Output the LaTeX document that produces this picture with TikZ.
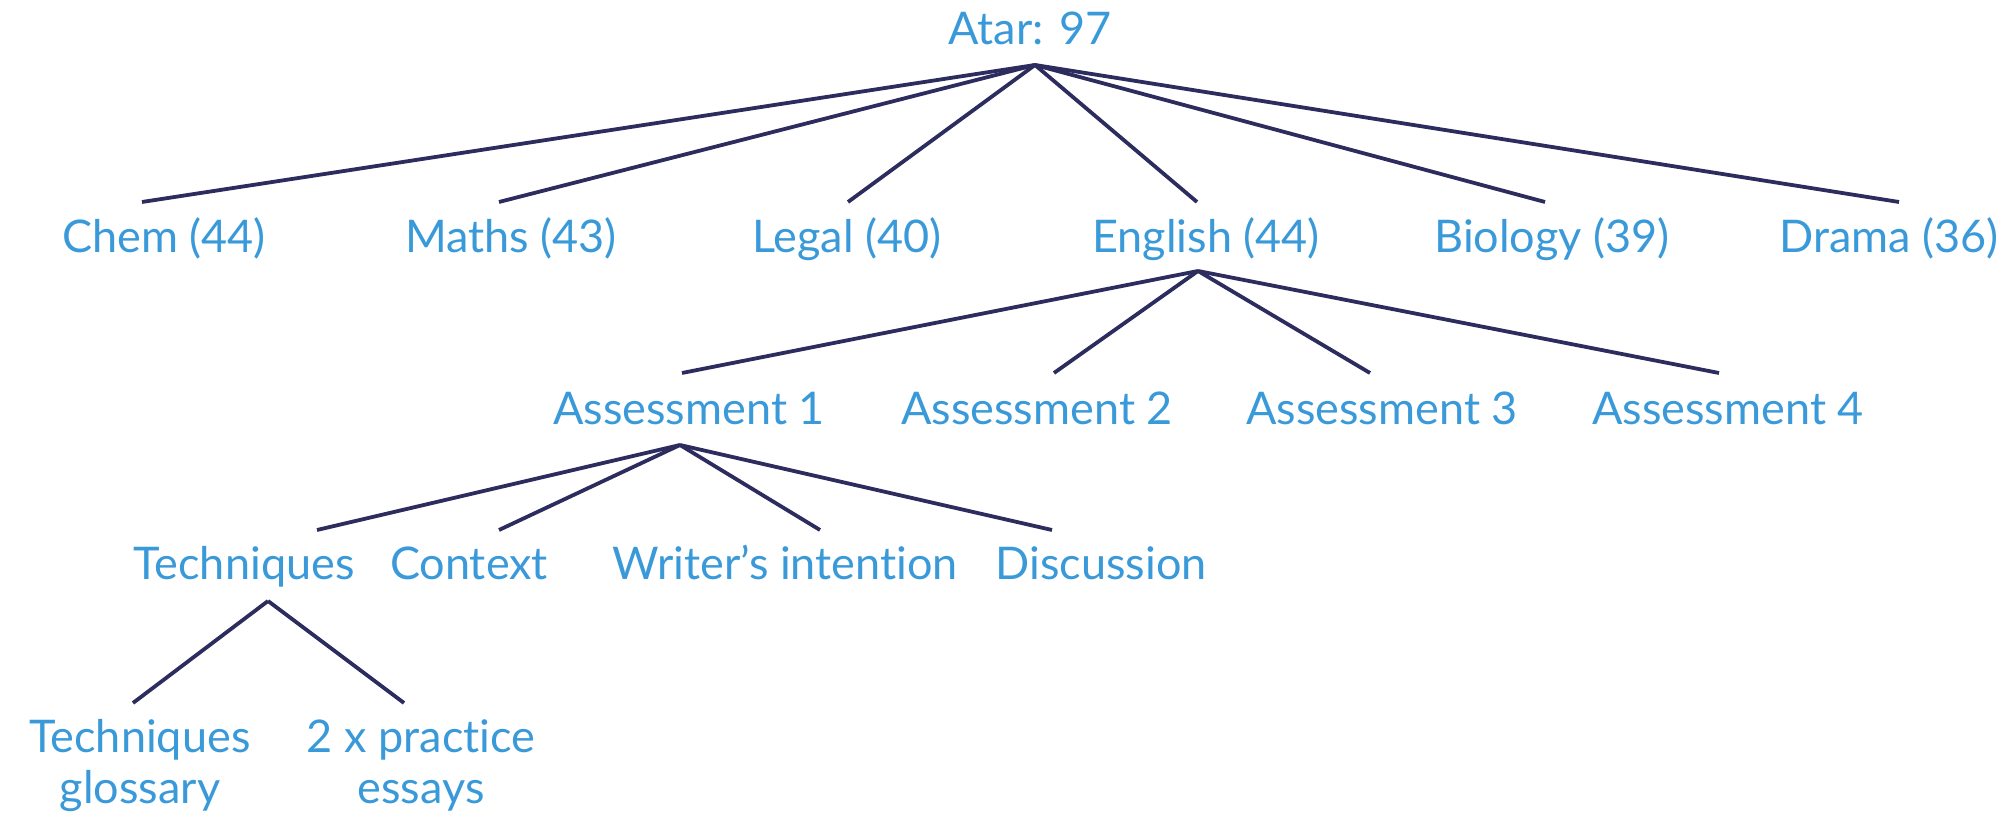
\documentclass[tikz,border=0pt]{standalone}
\usepackage{fontspec}
\setmainfont{Lato}[Ligatures=NoCommon]
\definecolor{txtblue}{HTML}{3A9AD9}
\definecolor{navy}{HTML}{2D2C5E}
\begin{document}
\begin{tikzpicture}[x=0.5pt,y=-0.5pt,
  lbl/.style={text=txtblue, font=\fontsize{22.5pt}{25pt}\selectfont, inner sep=0pt, anchor=base},
  conn/.style={draw=navy, line width=1.9pt}]
\useasboundingbox (0,0) rectangle (2002,822);
% nodes
\node[lbl] (atar) at (1030,45) {Atar: 97};
\node[lbl] (chem) at (164,253) {Chem (44)};
\node[lbl] (maths) at (511,253) {Maths (43)};
\node[lbl] (legal) at (847,253) {Legal (40)};
\node[lbl] (english) at (1206,253) {English (44)};
\node[lbl] (biology) at (1552,253) {Biology (39)};
\node[lbl] (drama) at (1889,253) {Drama (36)};
\node[lbl] (a1) at (689,425) {Assessment 1};
\node[lbl] (a2) at (1037,425) {Assessment 2};
\node[lbl] (a3) at (1382,425) {Assessment 3};
\node[lbl] (a4) at (1728,425) {Assessment 4};
\node[lbl] (tech) at (244,580) {Techniques};
\node[lbl] (context) at (469,580) {Context};
\node[lbl] (writer) at (785,580) {Writer’s intention};
\node[lbl] (disc) at (1101,580) {Discussion};
\node[lbl, align=center] (gloss) at (140,803) {Techniques\\glossary};
\node[lbl, align=center] (essays) at (421,803) {2 x practice\\essays};
% connector points
\coordinate (atarB) at (1035,65);
\coordinate (chemT) at (142,202);
\coordinate (mathsT) at (499,202);
\coordinate (legalT) at (848,202);
\coordinate (englishT) at (1197,202);
\coordinate (biologyT) at (1545,202);
\coordinate (dramaT) at (1899,202);
\coordinate (englishB) at (1198,271);
\coordinate (a1T) at (682,373);
\coordinate (a2T) at (1054,373);
\coordinate (a3T) at (1370,373);
\coordinate (a4T) at (1719,373);
\coordinate (a1B) at (680,445);
\coordinate (techT) at (317,530);
\coordinate (contextT) at (499,530);
\coordinate (writerT) at (820,530);
\coordinate (discT) at (1052,530);
\coordinate (techB) at (268,601);
\coordinate (glossT) at (133,703);
\coordinate (essaysT) at (404,703);
% connectors
\foreach \c in {chemT,mathsT,legalT,englishT,biologyT,dramaT}
  \draw[conn] (atarB) -- (\c);
\foreach \c in {a1T,a2T,a3T,a4T}
  \draw[conn] (englishB) -- (\c);
\foreach \c in {techT,contextT,writerT,discT}
  \draw[conn] (a1B) -- (\c);
\foreach \c in {glossT,essaysT}
  \draw[conn] (techB) -- (\c);
\end{tikzpicture}
\end{document}
